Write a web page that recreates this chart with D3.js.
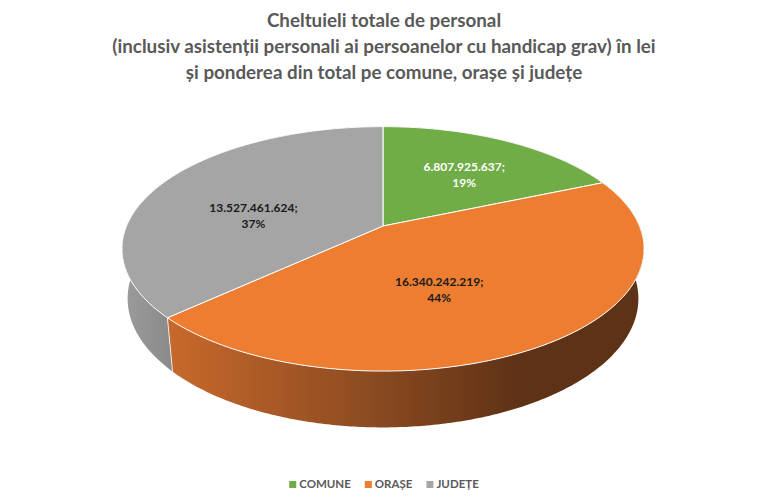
<!DOCTYPE html>
<html>
<head>
<meta charset="utf-8">
<script src="https://cdn.jsdelivr.net/npm/d3@7"></script>
<style>
  body { margin: 0; background: #fff; }
  text { font-family: Lato, "Open Sans", sans-serif; }
</style>
</head>
<body>
<div id="chart"></div>
<script>
const categories = ["COMUNE", "ORAȘE", "JUDEȚE"];
const values = [6807925637, 16340242219, 13527461624];
const percentLabels = ["19%", "44%", "37%"];
const titleLines = [
  "Cheltuieli totale de personal",
  "(inclusiv asistenții personali ai persoanelor cu handicap grav) în lei",
  "și ponderea din total pe comune, orașe și județe"
];

const width = 768, height = 502;
const topColors = ["#70AD47", "#ED7D31", "#A5A5A5"];

// perspective of the 3D pie (unit radius disk seen from above)
const cx = 383, cy = 226;
const S = 0.46, C = 0.888, D = 4.75, F = 1218, H = 0.22;

function project(theta, k, yw) {
  const u = k * Math.sin(theta), v = -k * Math.cos(theta);
  const yc = v * S - yw * C;
  const zc = D - v * C - yw * S;
  return [cx + F * u / zc, cy + F * yc / zc];
}

function arcPts(a0, a1, yw) {
  const n = Math.max(2, Math.ceil((a1 - a0) / 0.01));
  return d3.range(n + 1).map(i => project(a0 + (a1 - a0) * i / n, 1, yw));
}

const svg = d3.select("#chart")
  .append("svg")
  .attr("width", width)
  .attr("height", height);

const defs = svg.append("defs");
const wallStops = [
  [[0, "#6a9e42"], [1, "#4f7a30"]],
  [[0, "#C8692C"], [0.42, "#8C4B21"], [0.74, "#5E3216"], [1, "#5E3216"]],
  [[0, "#9C9C9C"], [0.2, "#898989"], [1, "#898989"]]
];
wallStops.forEach((stops, i) => {
  const g = defs.append("linearGradient")
    .attr("id", "wall" + i)
    .attr("x1", 0).attr("x2", 1).attr("y1", 0).attr("y2", 0);
  stops.forEach(s => g.append("stop").attr("offset", s[0]).attr("stop-color", s[1]));
});

const pie = d3.pie().sort(null).value(d => d)
  .startAngle(0).endAngle(2 * Math.PI);
const arcs = pie(values);

const line = d3.line();

// side walls
const walls = svg.append("g");
arcs.forEach((a, i) => {
  const topArc = arcPts(a.startAngle, a.endAngle, 0);
  const botArc = arcPts(a.startAngle, a.endAngle, -H).reverse();
  walls.append("path")
    .attr("d", line(topArc.concat(botArc)) + "Z")
    .attr("fill", `url(#wall${i})`);
});

// seams on the visible front part of the wall
arcs.forEach(a => {
  const t = a.startAngle;
  if (-Math.cos(t) > C / D) {
    walls.append("path")
      .attr("d", line([project(t, 1, 0), project(t, 1, -H)]))
      .attr("stroke", "#fff")
      .attr("stroke-width", 1)
      .attr("opacity", 0.8);
  }
});

// top faces
const tops = svg.append("g");
arcs.forEach((a, i) => {
  const poly = [project(0, 0, 0)].concat(arcPts(a.startAngle, a.endAngle, 0));
  a.poly = poly;
  tops.append("path")
    .attr("d", line(poly) + "Z")
    .attr("fill", topColors[i])
    .attr("stroke", "#fff")
    .attr("stroke-width", 1)
    .attr("stroke-linejoin", "round");
});

// data labels
const ro = d3.formatLocale({ decimal: ",", thousands: ".", grouping: [3], currency: ["", ""] });
const fmt = ro.format(",");
arcs.forEach((a, i) => {
  const [lx, ly] = d3.polygonCentroid(a.poly);
  const t = svg.append("text")
    .attr("x", lx)
    .attr("y", ly)
    .attr("text-anchor", "middle")
    .attr("font-size", 12)
    .attr("font-weight", "bold")
    .attr("fill", i === 0 ? "#fff" : "#1a1a1a");
  t.append("tspan").attr("x", lx).attr("dy", "-0.15em").text(fmt(values[i]) + ";");
  t.append("tspan").attr("x", lx).attr("dy", "1.3em").text(percentLabels[i]);
});

// title
const title = svg.append("text")
  .attr("text-anchor", "middle")
  .attr("font-weight", "bold")
  .attr("fill", "#595959")
  .attr("font-size", 18.8);
titleLines.forEach((s, i) => {
  title.append("tspan")
    .attr("x", width / 2)
    .attr("y", 27 + i * 26)
    .text(s);
});

// legend
const legend = svg.append("g");
let lxPos = 0;
categories.forEach((c, i) => {
  const item = legend.append("g").attr("transform", `translate(${lxPos},0)`);
  item.append("rect")
    .attr("x", 0).attr("y", -7)
    .attr("width", 7).attr("height", 7)
    .attr("fill", topColors[i]);
  const t = item.append("text")
    .attr("x", 10).attr("y", 0)
    .attr("font-size", 11.5)
    .attr("font-weight", "bold")
    .attr("fill", "#595959")
    .text(c);
  lxPos += 10 + t.node().getComputedTextLength() + 14;
});
const legendW = lxPos - 14;
legend.attr("transform", `translate(${(width - legendW) / 2},488)`);
</script>
</body>
</html>
